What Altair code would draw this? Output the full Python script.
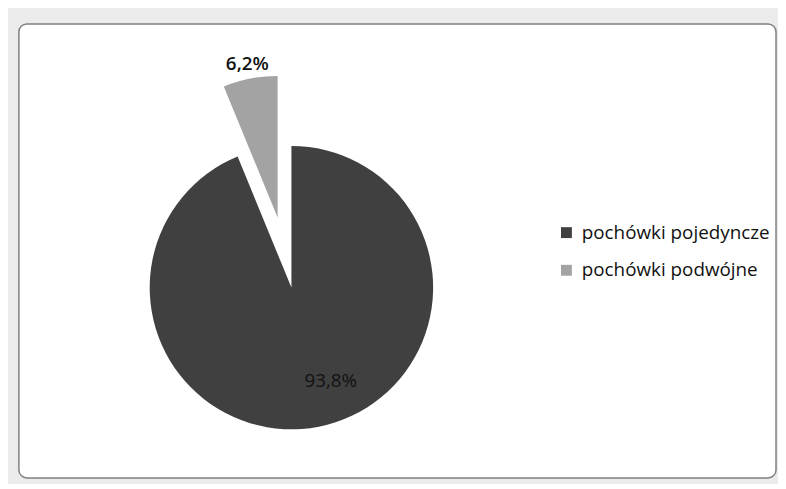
import math
import altair as alt
import pandas as pd

categories = ["pochówki pojedyncze", "pochówki podwójne"]
values = [93.8, 6.2]
colors = ["#404040", "#a3a3a3"]

df = pd.DataFrame({"category": categories, "value": values, "order": list(range(len(categories)))})

CX, CY, R = 275, 266, 143
EXPLODE = 72

base = (
    alt.Chart(df)
    .transform_window(end="sum(value)", sort=[alt.SortField("order")], frame=[None, 0])
    .transform_calculate(
        start="datum.end - datum.value",
        mid="(datum.end - datum.value/2)",
        label="replace(format(datum.value, '.1f'), '.', ',') + '%'",
    )
)

theta_scale = alt.Scale(domain=[0, 100], range=[0, 2 * math.pi])
color = alt.Color(
    "category:N",
    scale=alt.Scale(domain=categories, range=colors),
    sort=categories,
    legend=alt.Legend(
        title=None,
        orient="none",
        legendX=543,
        legendY=201,
        symbolType="square",
        symbolSize=121,
        symbolStrokeWidth=0,
        labelFont="Open Sans",
        labelFontSize=19,
        labelColor="#111111",
        labelLimit=0,
        rowPadding=18,
        labelOffset=6,
    ),
)

# explode offset of the second slice along its bisector
mid_angle = (100 - values[1] / 2) / 100 * 2 * math.pi
ox = EXPLODE * math.sin(mid_angle)
oy = -EXPLODE * math.cos(mid_angle)

f0 = alt.datum.category == categories[0]
f1 = alt.datum.category == categories[1]

arc_enc = dict(
    theta=alt.Theta("start:Q", scale=theta_scale),
    theta2="end:Q",
    color=color,
    x=alt.value(CX),
    y=alt.value(CY),
)

dark = base.transform_filter(f0).mark_arc(outerRadius=R).encode(**arc_enc)
light = base.transform_filter(f1).mark_arc(outerRadius=R, xOffset=ox, yOffset=oy).encode(**arc_enc)

txt_enc = dict(theta=alt.Theta("mid:Q", scale=theta_scale), text="label:N", x=alt.value(CX), y=alt.value(CY))
dark_lbl = base.transform_filter(f0).mark_text(
    radius=102, dx=20, dy=-6, font="Open Sans", fontSize=19, fontWeight=500, color="#111111"
).encode(**txt_enc)
light_lbl = base.transform_filter(f1).mark_text(
    radius=158, xOffset=ox, yOffset=oy, font="Open Sans", fontSize=19, fontWeight=600, color="#111111"
).encode(**txt_enc)

chart = (
    alt.layer(dark, light, dark_lbl, light_lbl)
    .properties(
        width=764,
        height=458,
        padding={"left": 11, "top": 14, "right": 2, "bottom": 4},
        background="#ebebeb",
    )
    .configure_view(fill="white", stroke="#808080", strokeWidth=1.5, cornerRadius=8)
)

chart.save("out.html", embed_options={"renderer": "svg", "actions": False})
